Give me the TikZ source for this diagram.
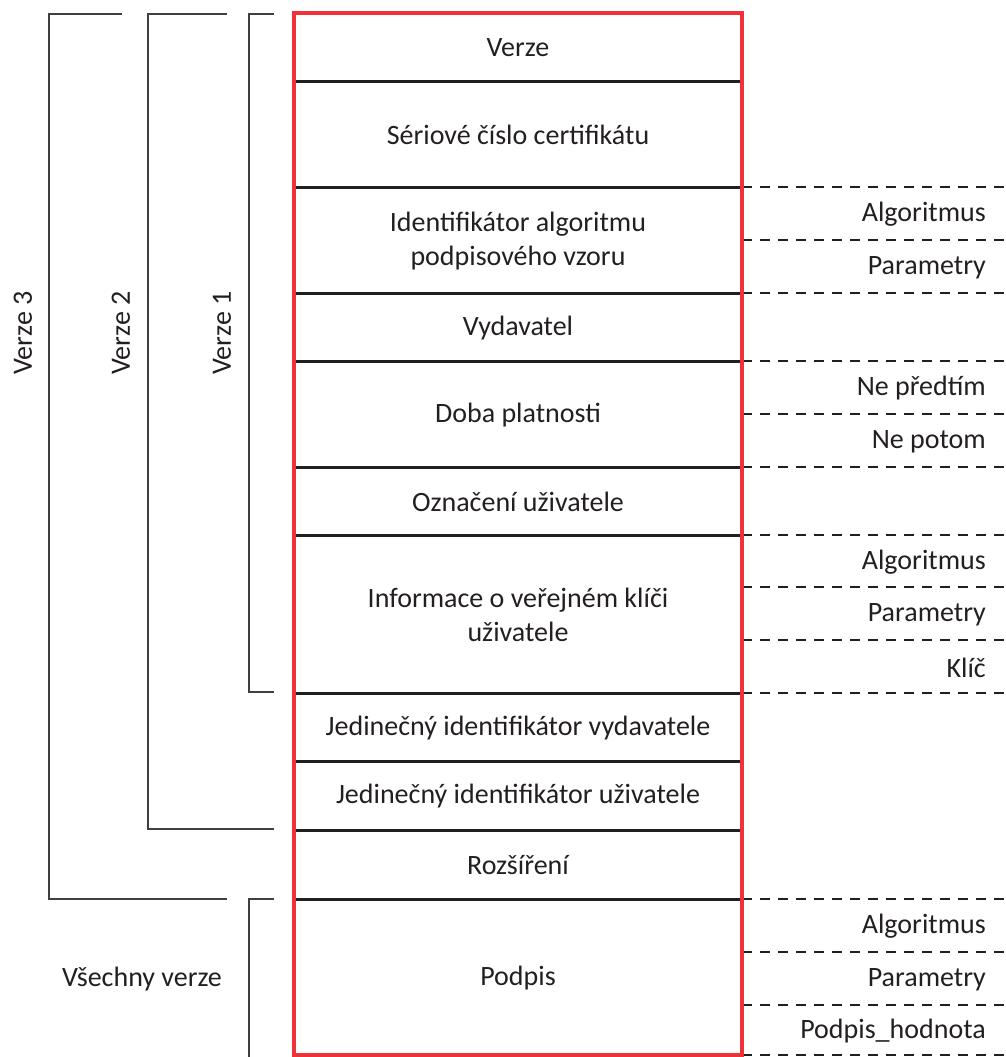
\documentclass[tikz,border=0pt]{standalone}
\usepackage{fontspec}
\setmainfont{Carlito}
\definecolor{boxred}{RGB}{238,50,56}
\definecolor{ink}{RGB}{35,31,32}
\definecolor{brk}{RGB}{64,64,64}

\begin{document}
\begin{tikzpicture}[x=1pt,y=-1pt,
  lbl/.style={font=\fontsize{28}{34}\selectfont, text=ink, align=center, inner sep=0pt},
  sublbl/.style={lbl, anchor=east},
  rowsep/.style={line width=3pt, draw=ink},
  subline/.style={line width=2.4pt, draw=ink, dash pattern=on 10pt off 8pt},
  bracket/.style={line width=1.5pt, draw=brk},
  frame/.style={line width=3.8pt, draw=boxred}]
\useasboundingbox (0,0) rectangle (1006,1057);

% row boundaries of the certificate structure
\foreach \y/\n in {81/s1,187/s2,293/s3,361/s4,467/s5,535/s6,693/s7,761/s8,830/s9,899/s10} {
  \coordinate (\n L) at (294,\y);
  \coordinate (\n R) at (742,\y);
  \draw[rowsep] (\n L) -- (\n R);
}

% dashed sub-field lines on the right
\foreach \y [count=\i] in {187,240,293,361,414,467,535,587,640,693,899,952,1005,1055} {
  \coordinate (d\i a) at (742,\y);
  \coordinate (d\i b) at (1006,\y);
  \draw[subline] (d\i a) -- (d\i b);
}

% outer red frame
\draw[frame] (294,13) rectangle (742,1055);

% field names
\node[lbl] (verze) at (518,48) {Verze};
\node[lbl] (serial) at (518,135) {Sériové číslo certifikátu};
\node[lbl] (sigalg) at (518,241) {Identifikátor algoritmu\\podpisového vzoru};
\node[lbl] (issuer) at (518,328) {Vydavatel};
\node[lbl] (validity) at (518,415) {Doba platnosti};
\node[lbl] (subject) at (518,502) {Označení uživatele};
\node[lbl] (pubkey) at (518,615) {Informace o veřejném klíči\\uživatele};
\node[lbl] (issuerid) at (518,728) {Jedinečný identifikátor vydavatele};
\node[lbl] (subjectid) at (518,796.5) {Jedinečný identifikátor uživatele};
\node[lbl] (ext) at (518,865.5) {Rozšíření};
\node[lbl] (sig) at (518,978) {Podpis};

% sub-field names
\node[sublbl] (a1) at (986,214.5) {Algoritmus};
\node[sublbl] (p1) at (986,267.5) {Parametry};
\node[sublbl] (nb) at (986,388.5) {Ne předtím};
\node[sublbl] (na) at (986,441.5) {Ne potom};
\node[sublbl] (a2) at (986,562) {Algoritmus};
\node[sublbl] (p2) at (986,614.5) {Parametry};
\node[sublbl] (key) at (986,667.5) {Klíč};
\node[sublbl] (a3) at (986,926.5) {Algoritmus};
\node[sublbl] (p3) at (986,979.5) {Parametry};
\node[sublbl] (sv) at (986,1031) {Podpis\_hodnota};

% version brackets
\draw[bracket] (122,14) -- (49,14) -- (49,899) -- (227,899);
\draw[bracket] (227,14) -- (148,14) -- (148,829) -- (274,829);
\draw[bracket] (274,14) -- (249,14) -- (249,692) -- (274,692);
\draw[bracket] (274,899) -- (249,899) -- (249,1058);

\node[lbl, rotate=90] (v3) at (23,333) {Verze 3};
\node[lbl, rotate=90] (v2) at (121,333) {Verze 2};
\node[lbl, rotate=90] (v1) at (222,333) {Verze 1};
\node[lbl] (all) at (142,979) {Všechny verze};
\end{tikzpicture}
\end{document}
